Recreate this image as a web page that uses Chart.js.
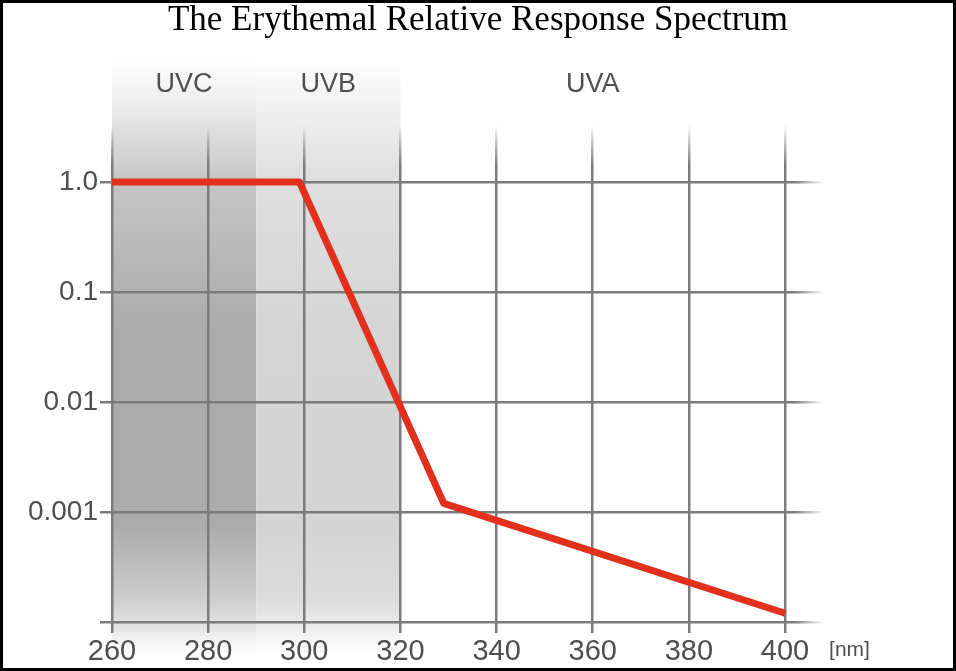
<!DOCTYPE html>
<html>
<head>
<meta charset="utf-8">
<title>The Erythemal Relative Response Spectrum</title>
<script src="https://cdn.jsdelivr.net/npm/chart.js@4"></script>
<style>
  html, body { margin: 0; padding: 0; background: #fff; }
  #wrap { width: 956px; height: 671px; box-sizing: border-box; border: 3px solid #000; }
  #chart { display: block; }
</style>
</head>
<body>
<div id="wrap"><canvas id="chart" width="950" height="665"></canvas></div>
<script>
// data
const wavelengths = [260, 299, 329, 400];
const response = [1, 1, 0.0012, 0.00012];

const xTicks = [260, 280, 300, 320, 340, 360, 380, 400];
const yTicks = [0.0001, 0.001, 0.01, 0.1, 1];
const yTickLabels = ['', '0.001', '0.01', '0.1', '1.0'];

const bandNames = ['UVC', 'UVB', 'UVA'];
const bandEdges = [260, 290, 320, 400];

const chartTitle = 'The Erythemal Relative Response Spectrum';

const GRID = '#7b7b7b';
const TEXT = '#4f4f4f';

// vertical grid lines fade out at the top, horizontal ones at the right
function xGridColor(c) {
  const a = c.chart.chartArea;
  if (!a) return GRID;
  const g = c.chart.ctx.createLinearGradient(0, a.top, 0, a.top + 40);
  g.addColorStop(0, 'rgba(123,123,123,0)');
  g.addColorStop(1, GRID);
  return g;
}
function yGridColor(c) {
  const a = c.chart.chartArea;
  if (!a) return GRID;
  const g = c.chart.ctx.createLinearGradient(a.right - 30, 0, a.right, 0);
  g.addColorStop(0, GRID);
  g.addColorStop(1, 'rgba(123,123,123,0)');
  return g;
}

const bandShading = {
  id: 'bandShading',
  beforeDraw(chart) {
    const { ctx } = chart;
    const x = chart.scales.x;
    const top = 57, bottom = 655;
    const fills = [
      [[0, 'rgba(235,235,235,0)'], [0.07, '#eeeeee'], [0.2, '#c6c6c6'], [0.45, '#ababab'], [0.78, '#ababab'], [0.9, '#cdcdcd'], [0.95, '#e4e4e4'], [1, 'rgba(245,245,245,0)']],
      [[0, 'rgba(240,240,240,0)'], [0.07, '#f2f2f2'], [0.2, '#dfdfdf'], [0.45, '#d5d5d5'], [0.78, '#d4d4d4'], [0.9, '#dcdcdc'], [0.95, '#ececec'], [1, 'rgba(248,248,248,0)']]
    ];
    ctx.save();
    for (let i = 0; i < 2; i++) {
      const x0 = x.getPixelForValue(bandEdges[i]);
      const x1 = x.getPixelForValue(bandEdges[i + 1]);
      const g = ctx.createLinearGradient(0, top, 0, bottom);
      fills[i].forEach(s => g.addColorStop(s[0], s[1]));
      ctx.fillStyle = g;
      ctx.fillRect(x0, top, x1 - x0, bottom - top);
    }
    ctx.restore();
  },
  afterDraw(chart) {
    const { ctx } = chart;
    const x = chart.scales.x;
    ctx.save();
    // title, centred over the whole picture
    ctx.fillStyle = '#000';
    ctx.font = '35px "Liberation Serif", "Times New Roman", serif';
    ctx.textAlign = 'center';
    ctx.textBaseline = 'alphabetic';
    ctx.fillText(chartTitle, chart.width / 2, 27);

    ctx.fillStyle = TEXT;
    ctx.font = '27px "Liberation Sans", Arial, sans-serif';
    ctx.textBaseline = 'middle';
    for (let i = 0; i < bandNames.length; i++) {
      const cx = (x.getPixelForValue(bandEdges[i]) + x.getPixelForValue(bandEdges[i + 1])) / 2;
      ctx.fillText(bandNames[i], cx, 82);
    }
    ctx.font = '21px "Liberation Sans", Arial, sans-serif';
    ctx.textAlign = 'left';
    ctx.fillText('[nm]', x.getPixelForValue(400) + 44, 647);
    ctx.restore();
  }
};

new Chart(document.getElementById('chart'), {
  type: 'line',
  data: {
    datasets: [{
      data: wavelengths.map((w, i) => ({ x: w, y: response[i] })),
      borderColor: '#e2301d',
      borderWidth: 7,
      borderJoinStyle: 'round',
      pointRadius: 0,
      tension: 0,
      fill: false
    }]
  },
  options: {
    responsive: false,
    animation: false,
    layout: { padding: { left: 0, right: 129.5, top: 122, bottom: 0 } },
    plugins: {
      legend: { display: false },
      tooltip: { enabled: false },
      title: { display: false }
    },
    scales: {
      x: {
        type: 'linear',
        min: 260,
        max: 408,
        afterBuildTicks: s => { s.ticks = xTicks.map(v => ({ value: v })); },
        afterFit: s => { s.height = 46; },
        border: { display: false },
        grid: { color: xGridColor, lineWidth: 2.5, tickLength: 11, drawTicks: true },
        ticks: {
          color: TEXT,
          padding: 2,
          maxRotation: 0,
          autoSkip: false,
          font: { family: '"Liberation Sans", Arial, sans-serif', size: 29 },
          callback: v => String(v)
        }
      },
      y: {
        type: 'logarithmic',
        min: 0.0001,
        max: 3.3,
        afterBuildTicks: s => { s.ticks = yTicks.map(v => ({ value: v })); },
        afterFit: s => { s.width = 109; },
        border: { display: false },
        grid: { color: yGridColor, lineWidth: 2.5, tickLength: 12 },
        ticks: {
          color: TEXT,
          padding: 2,
          autoSkip: false,
          font: { family: '"Liberation Sans", Arial, sans-serif', size: 28 },
          callback: (v, i) => yTickLabels[i]
        }
      }
    }
  },
  plugins: [bandShading]
});
</script>
</body>
</html>
